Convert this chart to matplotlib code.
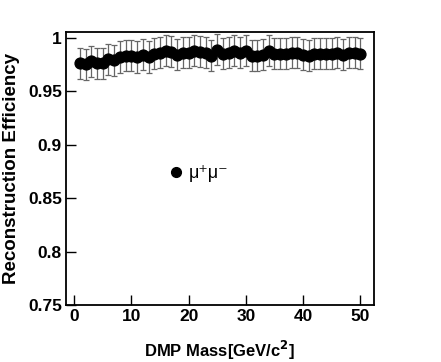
import matplotlib
matplotlib.use("Agg")
import matplotlib.pyplot as plt

mass = list(range(1, 51))
eff = [0.976, 0.975, 0.978, 0.976, 0.976, 0.980, 0.979, 0.982, 0.983, 0.983,
       0.982, 0.984, 0.982, 0.985, 0.986, 0.988, 0.987, 0.984, 0.986, 0.986,
       0.988, 0.987, 0.986, 0.983, 0.989, 0.985, 0.986, 0.988, 0.986, 0.988,
       0.983, 0.983, 0.984, 0.988, 0.985, 0.985, 0.985, 0.986, 0.986, 0.984,
       0.983, 0.985, 0.985, 0.985, 0.985, 0.986, 0.984, 0.986, 0.986, 0.985]
err = [0.0145] * 50

plt.rcParams["font.family"] = ["Liberation Sans", "DejaVu Sans"]

fig = plt.figure(figsize=(4.41, 3.62), dpi=100)
ax = fig.add_axes([0.150, 0.157, 0.698, 0.755])

ax.errorbar(mass, eff, yerr=err, fmt="none", ecolor="#666666", elinewidth=0.9,
            capsize=2, capthick=0.9, zorder=2)
ax.plot(mass, eff, "o", color="black", markersize=7.8, zorder=3, label="μ⁺μ⁻")

ax.set_xlim(-1.4, 52.4)
ax.set_ylim(0.75, 1.0055)
ax.set_xticks([0, 10, 20, 30, 40, 50])
ax.set_yticks([0.75, 0.8, 0.85, 0.9, 0.95, 1.0])
ax.set_yticklabels(["0.75", "0.8", "0.85", "0.9", "0.95", "1"])
ax.tick_params(direction="in", length=7, width=1, labelsize=12.5, top=False, right=False, pad=3)
for lab in ax.get_xticklabels() + ax.get_yticklabels():
    lab.set_fontweight("bold")
for s in ax.spines.values():
    s.set_linewidth(1.3)

ax.set_xlabel(r"DMP Mass[GeV/c$^{\mathbf{2}}$]", fontsize=12, fontweight="bold", labelpad=10.5)
ax.set_ylabel("Reconstruction Efficiency", fontsize=13.5, fontweight="bold", labelpad=6)

ax.legend(loc="center left", bbox_to_anchor=(0.27, 0.48), frameon=False, fontsize=13,
          handletextpad=0.1, markerscale=0.9, handlelength=1.2)

fig.savefig("out.png", dpi=100)
